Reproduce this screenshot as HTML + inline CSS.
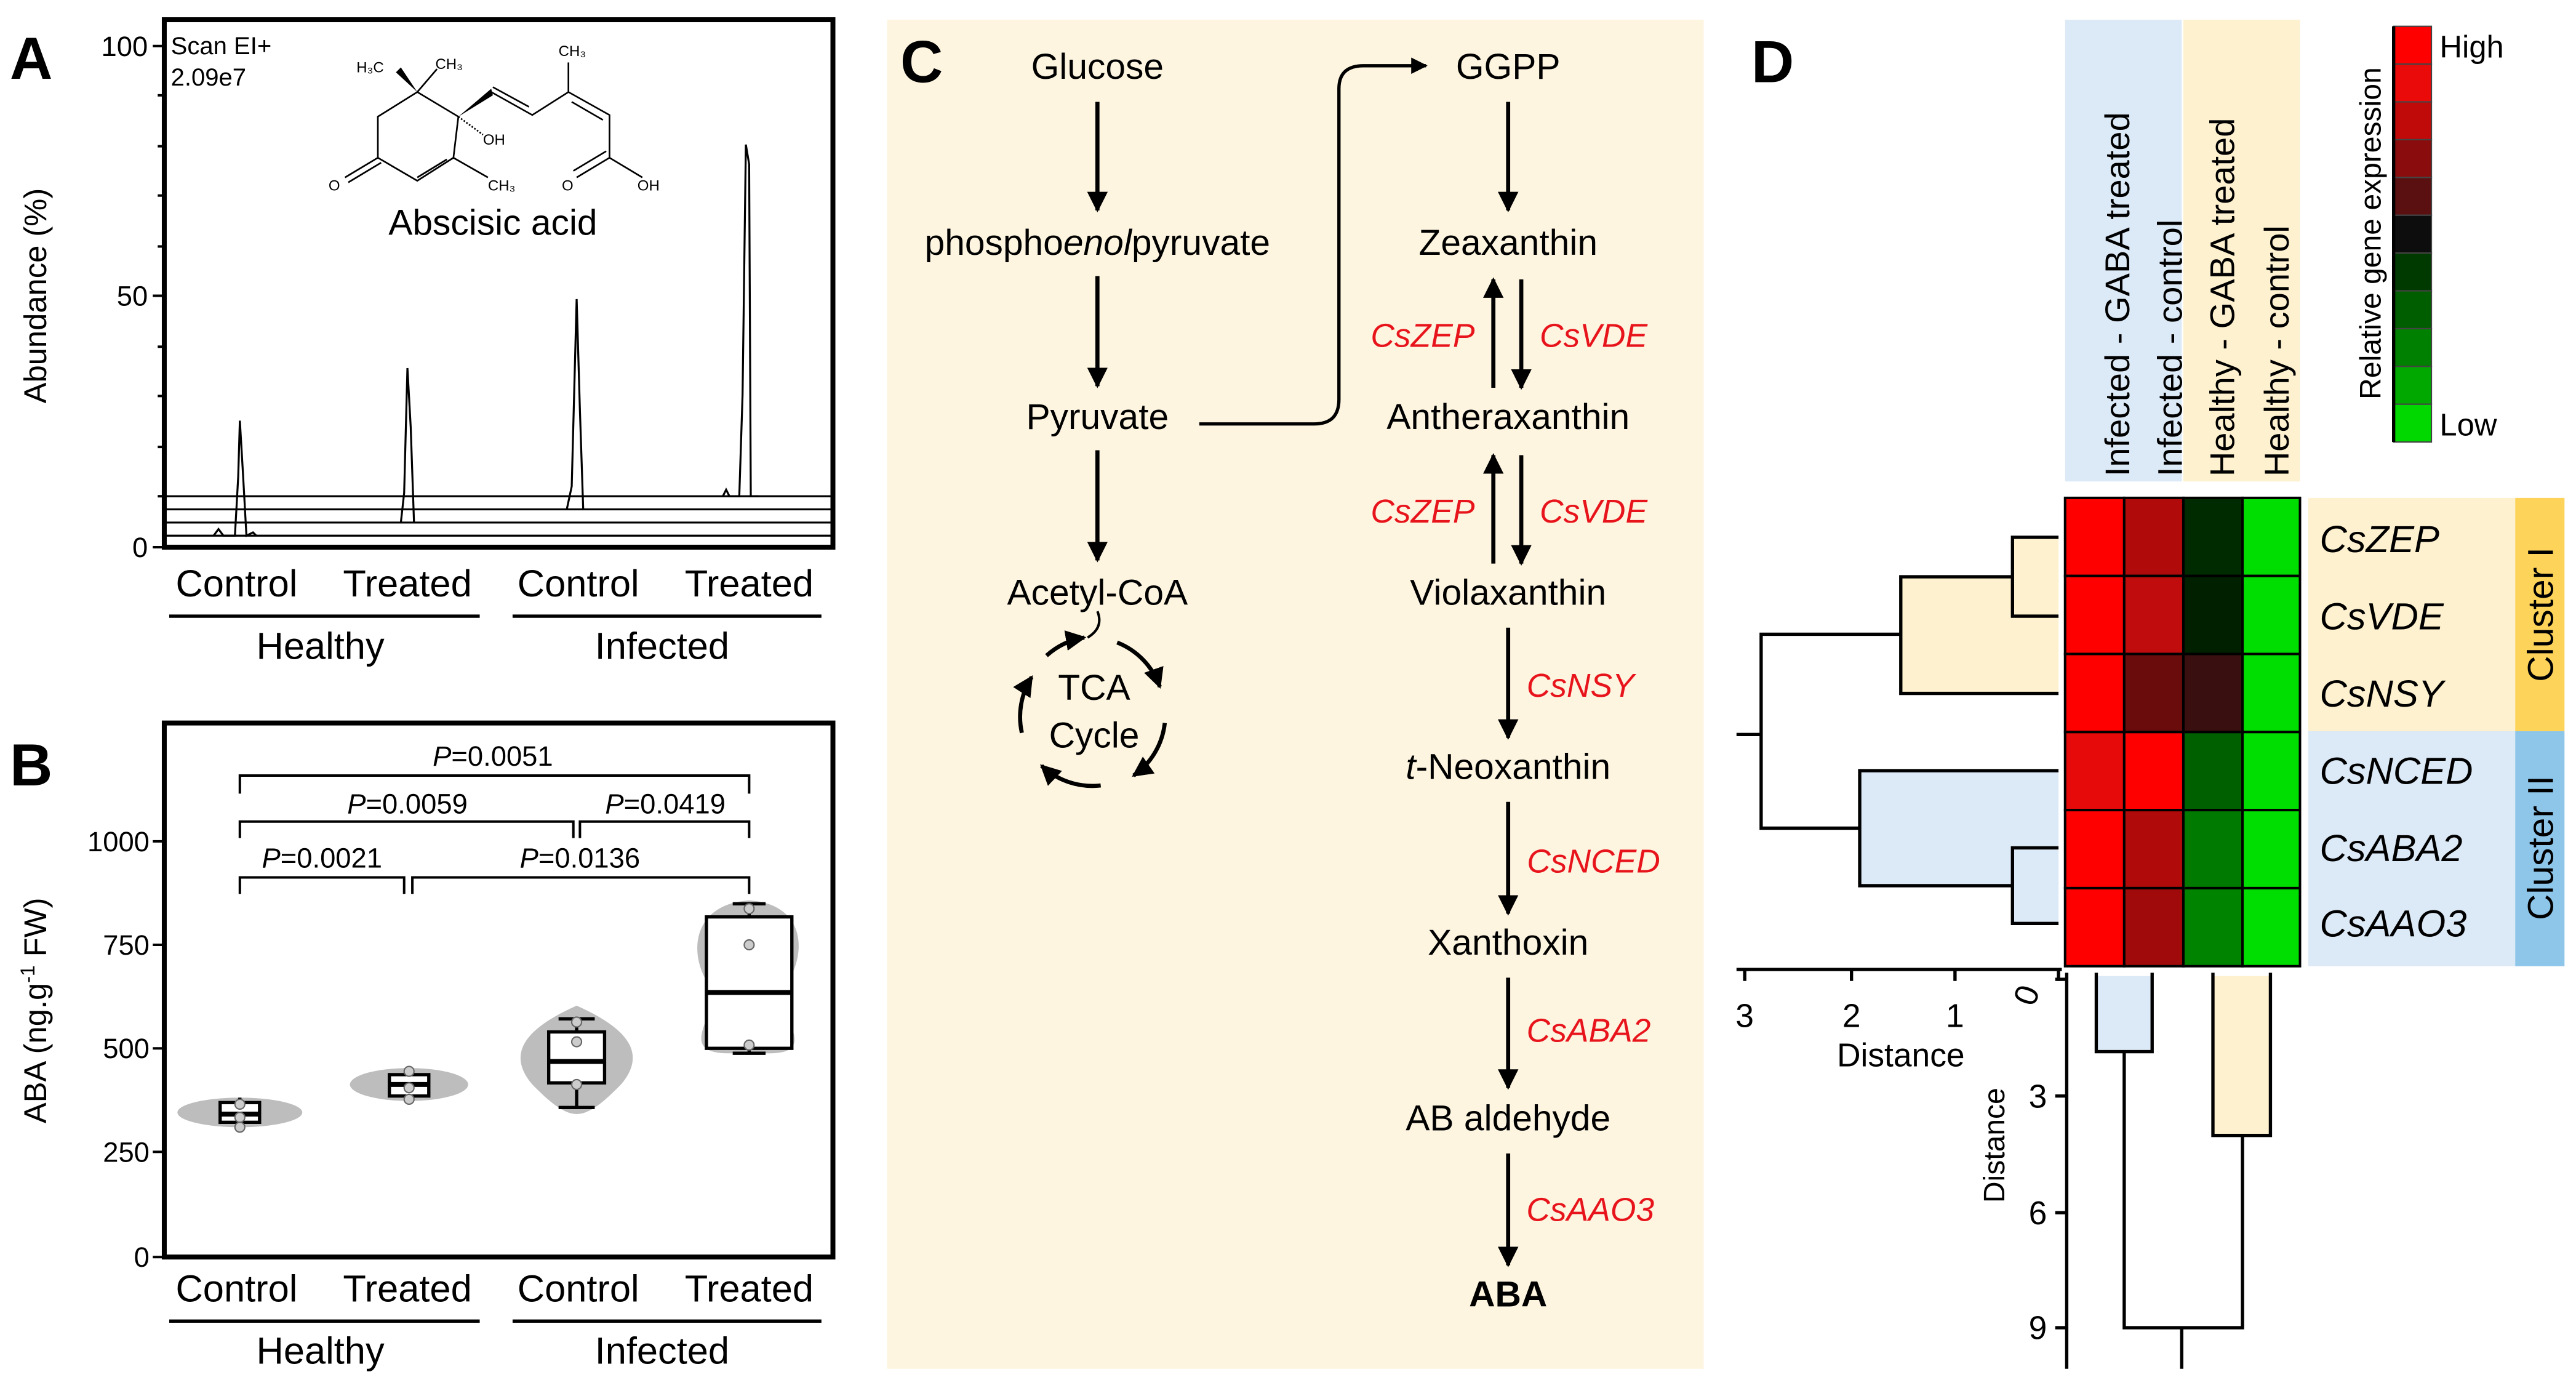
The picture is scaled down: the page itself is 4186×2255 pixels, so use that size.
<!DOCTYPE html>
<html><head><meta charset="utf-8"><style>html,body{margin:0;padding:0;background:#fff}svg{display:block}</style></head>
<body>
<svg width="4186" height="2255" viewBox="0 0 1568 844.7" preserveAspectRatio="none" xmlns="http://www.w3.org/2000/svg" font-family="Liberation Sans, Arial, sans-serif">
<defs>
<marker id="ah" viewBox="0 0 10 10" refX="9" refY="5" markerWidth="5" markerHeight="5" orient="auto-start-reverse"><path d="M0,0L10,5L0,10z" fill="#000"/></marker>
</defs>
<rect width="1568" height="845" fill="#fff"/>
<!-- Panel A -->
<text x="6" y="48" font-size="36" font-weight="bold">A</text>
<rect x="100" y="12" width="407" height="321" fill="none" stroke="#000" stroke-width="3"/>
<g stroke="#000" stroke-width="1.5"><line x1="93" y1="28" x2="100" y2="28"/><line x1="93" y1="180" x2="100" y2="180"/><line x1="93" y1="333" x2="100" y2="333"/>
<line x1="96" y1="58" x2="100" y2="58"/><line x1="96" y1="89" x2="100" y2="89"/><line x1="96" y1="119" x2="100" y2="119"/><line x1="96" y1="150" x2="100" y2="150"/><line x1="96" y1="211" x2="100" y2="211"/><line x1="96" y1="241" x2="100" y2="241"/><line x1="96" y1="272" x2="100" y2="272"/><line x1="96" y1="302" x2="100" y2="302"/></g>
<g font-size="17" text-anchor="end"><text x="90" y="34">100</text><text x="90" y="186">50</text><text x="90" y="339">0</text></g>
<text transform="translate(28,180) rotate(-90)" font-size="19" text-anchor="middle">Abundance (%)</text>
<text x="104" y="33" font-size="15">Scan EI+</text><text x="104" y="52" font-size="15">2.09e7</text>
<g stroke="#000" stroke-width="1.2" fill="none">
<line x1="100" y1="302" x2="507" y2="302"/><line x1="100" y1="310" x2="507" y2="310"/><line x1="100" y1="318" x2="507" y2="318"/><line x1="100" y1="326" x2="507" y2="326"/>
<path d="M130,326 L133,322 L136,326 L143,326 L145,290 L146,256 L148,290 L150,326 L154,324 L156,326"/>
<path d="M244,318 L246,300 L248,224 L250,260 L252,318"/>
<path d="M345,310 L348,296 L351,182 L353,250 L355,310"/>
<path d="M440,302 L442,298 L444,302 L450,302 L452,240 L454,88 L456,100 L457,302 L462,302"/>
</g>
<!-- molecule -->
<g stroke="#000" stroke-width="1" fill="none">
<polyline points="254,56 279,71 276,96 254,110 230,96 230,71 254,56"/>
<line x1="254" y1="108" x2="272" y2="97"/>
<line x1="230" y1="96" x2="210" y2="108"/><line x1="232" y1="99" x2="212" y2="111"/>
<line x1="276" y1="96" x2="297" y2="108"/>
<line x1="254" y1="56" x2="266" y2="42"/>
<polyline points="299,56 324,70 346,56 371,70 371,96"/>
<line x1="322" y1="65" x2="300" y2="53"/>
<line x1="348" y1="62" x2="367" y2="73"/>
<line x1="346" y1="56" x2="346" y2="38"/>
<line x1="371" y1="96" x2="351" y2="108"/><line x1="369" y1="92" x2="349" y2="104"/>
<line x1="371" y1="96" x2="391" y2="108"/>
<line x1="279" y1="71" x2="294" y2="82" stroke-dasharray="1,1"/>
</g>
<polygon points="254,56 241,44 244,41" fill="#000"/>
<polygon points="279,71 299,54 300,58" fill="#000"/>
<g font-size="9"><text x="217" y="44">H₃C</text><text x="265" y="42">CH₃</text><text x="340" y="34">CH₃</text><text x="294" y="88">OH</text><text x="200" y="116">O</text><text x="297" y="116">CH₃</text><text x="342" y="116">O</text><text x="388" y="116">OH</text></g>
<text x="300" y="143" font-size="22" text-anchor="middle">Abscisic acid</text>
<g font-size="23" text-anchor="middle"><text x="144" y="363">Control</text><text x="248" y="363">Treated</text><text x="352" y="363">Control</text><text x="456" y="363">Treated</text>
<text x="195" y="401">Healthy</text><text x="403" y="401">Infected</text>
<text x="144" y="792">Control</text><text x="248" y="792">Treated</text><text x="352" y="792">Control</text><text x="456" y="792">Treated</text>
<text x="195" y="830">Healthy</text><text x="403" y="830">Infected</text></g>
<g stroke="#000" stroke-width="2"><line x1="103" y1="375" x2="292" y2="375"/><line x1="312" y1="375" x2="500" y2="375"/><line x1="103" y1="804" x2="292" y2="804"/><line x1="312" y1="804" x2="500" y2="804"/></g>
<!-- Panel B -->
<text x="6" y="478" font-size="36" font-weight="bold">B</text>
<rect x="100" y="440" width="407" height="325" fill="none" stroke="#000" stroke-width="3"/>
<g stroke="#000" stroke-width="1.5"><line x1="93" y1="512" x2="100" y2="512"/><line x1="93" y1="575" x2="100" y2="575"/><line x1="93" y1="638" x2="100" y2="638"/><line x1="93" y1="701" x2="100" y2="701"/><line x1="93" y1="765" x2="100" y2="765"/></g>
<g font-size="17" text-anchor="end"><text x="91" y="518">1000</text><text x="91" y="581">750</text><text x="91" y="644">500</text><text x="91" y="707">250</text><text x="91" y="771">0</text></g>
<text transform="translate(28,615) rotate(-90)" font-size="19" text-anchor="middle">ABA (ng.g<tspan font-size="12" dy="-7">-1</tspan><tspan dy="7"> FW)</tspan></text>
<g fill="#bdbdbd">
<ellipse cx="146" cy="677" rx="38" ry="9"/>
<ellipse cx="249" cy="660" rx="36" ry="10"/>
<path d="M351,612 C380,625 395,640 378,660 C370,668 360,678 351,678 C342,678 332,668 324,660 C307,640 322,625 351,612z"/>
<path d="M456,548 C490,550 492,580 478,600 C470,615 500,640 470,641 L442,641 C410,640 440,615 432,600 C418,580 422,550 456,548z"/>
</g>
<g stroke="#000" stroke-width="2" fill="#fff">
<line x1="146" y1="668" x2="146" y2="688"/><rect x="134" y="671" width="24" height="12"/><line x1="134" y1="678" x2="158" y2="678" stroke-width="3"/>
<line x1="249" y1="650" x2="249" y2="671"/><rect x="237" y="654" width="24" height="13"/><line x1="237" y1="660" x2="261" y2="660" stroke-width="3"/>
<line x1="351" y1="620" x2="351" y2="674"/><rect x="334" y="628" width="34" height="31"/><line x1="334" y1="646" x2="368" y2="646" stroke-width="3"/>
<line x1="456" y1="550" x2="456" y2="641"/><line x1="446" y1="550" x2="466" y2="550"/><line x1="446" y1="641" x2="466" y2="641"/><rect x="430" y="558" width="52" height="80"/><line x1="430" y1="604" x2="482" y2="604" stroke-width="3"/>
<line x1="340" y1="620" x2="362" y2="620"/><line x1="340" y1="674" x2="362" y2="674"/>
</g>
<g fill="#ccc" stroke="#666" stroke-width="0.8"><circle cx="146" cy="672" r="3"/><circle cx="146" cy="680" r="3"/><circle cx="146" cy="686" r="3"/><circle cx="249" cy="652" r="3"/><circle cx="249" cy="662" r="3"/><circle cx="249" cy="669" r="3"/><circle cx="351" cy="622" r="3"/><circle cx="351" cy="634" r="3"/><circle cx="351" cy="660" r="3"/><circle cx="456" cy="553" r="3"/><circle cx="456" cy="575" r="3"/><circle cx="456" cy="636" r="3"/></g>
<g stroke="#000" stroke-width="1.5" fill="none">
<path d="M146,483 V472 H456 V483"/><path d="M146,510 V500 H349 V510"/><path d="M353,510 V500 H456 V510"/><path d="M146,544 V534 H246 V544"/><path d="M251,544 V534 H456 V544"/>
</g>
<g font-size="17" text-anchor="middle"><text x="300" y="466"><tspan font-style="italic">P</tspan>=0.0051</text><text x="248" y="495"><tspan font-style="italic">P</tspan>=0.0059</text><text x="405" y="495"><tspan font-style="italic">P</tspan>=0.0419</text><text x="196" y="528"><tspan font-style="italic">P</tspan>=0.0021</text><text x="353" y="528"><tspan font-style="italic">P</tspan>=0.0136</text></g>
<!-- Panel C -->
<rect x="540" y="12" width="497" height="821" fill="#fdf5e0"/>
<text x="548" y="50" font-size="36" font-weight="bold">C</text>
<g font-size="22" text-anchor="middle">
<text x="668" y="48">Glucose</text><text x="668" y="155">phospho<tspan font-style="italic">enol</tspan>pyruvate</text><text x="668" y="261">Pyruvate</text><text x="668" y="368">Acetyl-CoA</text>
<text x="666" y="426">TCA</text><text x="666" y="455">Cycle</text>
<text x="918" y="48">GGPP</text><text x="918" y="155">Zeaxanthin</text><text x="918" y="261">Antheraxanthin</text><text x="918" y="368">Violaxanthin</text><text x="918" y="474"><tspan font-style="italic">t</tspan>-Neoxanthin</text><text x="918" y="581">Xanthoxin</text><text x="918" y="688">AB aldehyde</text><text x="918" y="795" font-weight="bold">ABA</text>
</g>
<g stroke="#000" stroke-width="2.5" fill="none" marker-end="url(#ah)">
<line x1="668" y1="62" x2="668" y2="128"/><line x1="668" y1="168" x2="668" y2="235"/><line x1="668" y1="274" x2="668" y2="341"/>
<line x1="918" y1="62" x2="918" y2="128"/>
<line x1="926" y1="170" x2="926" y2="236"/><line x1="909" y1="236" x2="909" y2="170"/>
<line x1="926" y1="277" x2="926" y2="343"/><line x1="909" y1="343" x2="909" y2="277"/>
<line x1="918" y1="382" x2="918" y2="449"/><line x1="918" y1="488" x2="918" y2="556"/><line x1="918" y1="595" x2="918" y2="662"/><line x1="918" y1="702" x2="918" y2="770"/>
<path d="M730,258 H800 Q815,258 815,243 V54 Q815,40 830,40 H868" stroke-width="2"/>
</g>
<g stroke="#000" stroke-width="2.5" fill="none">
<path d="M668,372 Q672,382 662,388" stroke-width="1.5"/>
<path d="M680,391 A45,45 0 0,1 706,418" marker-end="url(#ah)"/>
<path d="M709,440 A45,45 0 0,1 690,472" marker-end="url(#ah)"/>
<path d="M670,478 A45,45 0 0,1 634,466" marker-end="url(#ah)"/>
<path d="M622,446 A45,45 0 0,1 628,412" marker-end="url(#ah)"/>
<path d="M637,399 A45,45 0 0,1 660,388" marker-end="url(#ah)"/>
</g>
<g font-size="20" font-style="italic" fill="#e8141c" text-anchor="middle">
<text x="866" y="211">CsZEP</text><text x="970" y="211">CsVDE</text><text x="866" y="318">CsZEP</text><text x="970" y="318">CsVDE</text>
<text x="962" y="424">CsNSY</text><text x="970" y="531">CsNCED</text><text x="967" y="634">CsABA2</text><text x="968" y="743">CsAAO3</text>
</g>
<!-- Panel D -->
<text x="1066" y="50" font-size="36" font-weight="bold">D</text>
<rect x="1257" y="12" width="71" height="281" fill="#dce9f6"/><rect x="1329" y="12" width="71" height="281" fill="#fdf1cf"/>
<g font-size="21" text-anchor="start">
<text transform="translate(1296,290) rotate(-90)">Infected - GABA treated</text>
<text transform="translate(1328,290) rotate(-90)">Infected - control</text>
<text transform="translate(1360,290) rotate(-90)">Healthy - GABA treated</text>
<text transform="translate(1393,290) rotate(-90)">Healthy - control</text>
</g>
<!-- heatmap -->
<g stroke="#000" stroke-width="1.5">
<rect x="1257" y="303" width="36" height="47.5" fill="#ff0000"/><rect x="1293" y="303" width="36" height="47.5" fill="#b00a0a"/><rect x="1329" y="303" width="36" height="47.5" fill="#002a00"/><rect x="1365" y="303" width="35" height="47.5" fill="#00dd00"/>
<rect x="1257" y="350.5" width="36" height="47.5" fill="#ff0000"/><rect x="1293" y="350.5" width="36" height="47.5" fill="#c00c0c"/><rect x="1329" y="350.5" width="36" height="47.5" fill="#002000"/><rect x="1365" y="350.5" width="35" height="47.5" fill="#00dd00"/>
<rect x="1257" y="398" width="36" height="47.5" fill="#ff0000"/><rect x="1293" y="398" width="36" height="47.5" fill="#6a0c0c"/><rect x="1329" y="398" width="36" height="47.5" fill="#3a0f0f"/><rect x="1365" y="398" width="35" height="47.5" fill="#00dd00"/>
<rect x="1257" y="445.5" width="36" height="47.5" fill="#e60a0a"/><rect x="1293" y="445.5" width="36" height="47.5" fill="#ff0000"/><rect x="1329" y="445.5" width="36" height="47.5" fill="#006000"/><rect x="1365" y="445.5" width="35" height="47.5" fill="#00dd00"/>
<rect x="1257" y="493" width="36" height="47.5" fill="#ff0000"/><rect x="1293" y="493" width="36" height="47.5" fill="#b00a0a"/><rect x="1329" y="493" width="36" height="47.5" fill="#007a00"/><rect x="1365" y="493" width="35" height="47.5" fill="#00dd00"/>
<rect x="1257" y="540.5" width="36" height="47.5" fill="#ff0000"/><rect x="1293" y="540.5" width="36" height="47.5" fill="#a00a0a"/><rect x="1329" y="540.5" width="36" height="47.5" fill="#008400"/><rect x="1365" y="540.5" width="35" height="47.5" fill="#00dd00"/>
</g>
<rect x="1405" y="303" width="126" height="142" fill="#fdf1cf"/><rect x="1405" y="445" width="126" height="143" fill="#dce9f6"/>
<rect x="1531" y="303" width="30" height="142" fill="#fdd35a"/><rect x="1531" y="445" width="30" height="143" fill="#8ec6ea"/>
<g font-size="22"><text transform="translate(1554,374) rotate(-90)" text-anchor="middle">Cluster I</text><text transform="translate(1554,516) rotate(-90)" text-anchor="middle">Cluster II</text></g>
<g font-size="23" font-style="italic"><text x="1412" y="336">CsZEP</text><text x="1412" y="383">CsVDE</text><text x="1412" y="430">CsNSY</text><text x="1412" y="477">CsNCED</text><text x="1412" y="524">CsABA2</text><text x="1412" y="570">CsAAO3</text></g>
<!-- left dendrogram -->
<rect x="1157" y="351" width="96" height="71" fill="#fdf1cf"/><rect x="1225" y="327" width="28" height="48" fill="#fdf1cf"/>
<rect x="1132" y="469" width="121" height="70" fill="#dce9f6"/><rect x="1225" y="516" width="28" height="46" fill="#dce9f6"/>
<g stroke="#000" stroke-width="2" fill="none">
<path d="M1253,327 H1225 V375 H1253"/><path d="M1225,351 H1157 V422 H1253"/>
<path d="M1253,516 H1225 V562 H1253"/><path d="M1225,539 H1132 V469 H1253"/>
<path d="M1157,386 H1072 V504 H1132"/><line x1="1057" y1="447" x2="1072" y2="447"/>
<line x1="1057" y1="590" x2="1255" y2="590"/>
<line x1="1062" y1="590" x2="1062" y2="597"/><line x1="1127" y1="590" x2="1127" y2="597"/><line x1="1190" y1="590" x2="1190" y2="597"/><line x1="1253" y1="590" x2="1253" y2="597"/>
</g>
<g font-size="20" text-anchor="middle"><text x="1062" y="625">3</text><text x="1127" y="625">2</text><text x="1190" y="625">1</text><text transform="translate(1240,608) rotate(-70)">0</text><text x="1157" y="649">Distance</text></g>
<!-- bottom dendrogram -->
<rect x="1276" y="594" width="34" height="46" fill="#dce9f6"/><rect x="1347" y="594" width="35" height="97" fill="#fdf1cf"/>
<g stroke="#000" stroke-width="2" fill="none">
<path d="M1276,592 V640 H1310 V592"/><path d="M1347,592 V691 H1382 V592"/>
<path d="M1293,640 V808 H1365 V691"/><line x1="1328" y1="808" x2="1328" y2="833"/>
<line x1="1258" y1="592" x2="1258" y2="833"/>
<line x1="1251" y1="596" x2="1258" y2="596"/><line x1="1251" y1="667" x2="1258" y2="667"/><line x1="1251" y1="738" x2="1258" y2="738"/><line x1="1251" y1="808" x2="1258" y2="808"/>
</g>
<g font-size="20" text-anchor="end"><text x="1246" y="674">3</text><text x="1246" y="745">6</text><text x="1246" y="815">9</text></g>
<text transform="translate(1220,697) rotate(-90)" font-size="18" text-anchor="middle">Distance</text>
<!-- legend -->
<g stroke="#444" stroke-width="0.8">
<rect x="1457" y="16" width="23" height="23" fill="#ff0000"/><rect x="1457" y="39" width="23" height="23" fill="#ea0a0a"/><rect x="1457" y="62" width="23" height="23" fill="#c00a0a"/><rect x="1457" y="85" width="23" height="23" fill="#8a0c0c"/><rect x="1457" y="108" width="23" height="23" fill="#5a1010"/><rect x="1457" y="131" width="23" height="23" fill="#0d0d0d"/><rect x="1457" y="154" width="23" height="23" fill="#003a00"/><rect x="1457" y="177" width="23" height="23" fill="#005e00"/><rect x="1457" y="200" width="23" height="23" fill="#008000"/><rect x="1457" y="223" width="23" height="23" fill="#00a800"/><rect x="1457" y="246" width="23" height="23" fill="#00d800"/>
</g>
<line x1="1457" y1="16" x2="1457" y2="269" stroke="#000" stroke-width="2"/>
<text x="1485" y="35" font-size="19">High</text><text x="1485" y="265" font-size="19">Low</text>
<text transform="translate(1449,142) rotate(-90)" font-size="18" text-anchor="middle">Relative gene expression</text>
</svg>
</body></html>
